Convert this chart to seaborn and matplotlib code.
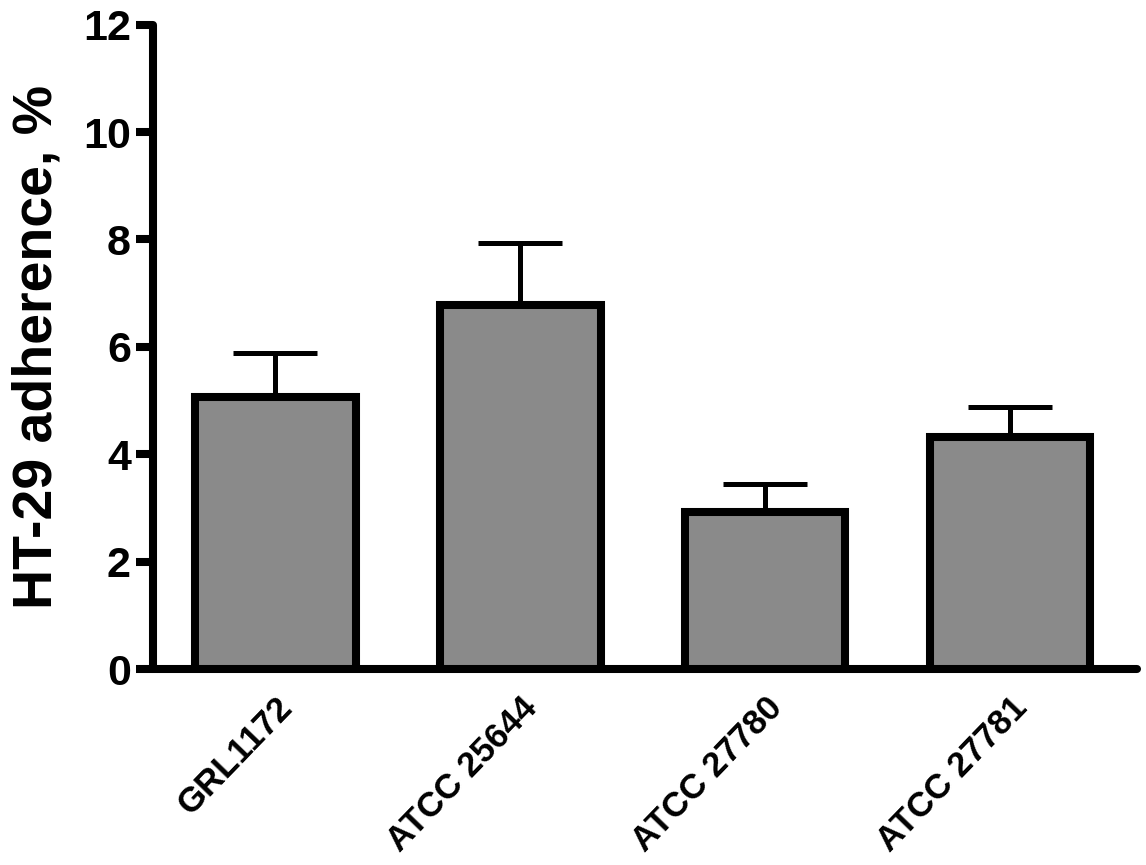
import numpy as np
import pandas as pd
import seaborn as sns
import matplotlib.pyplot as plt

# datos
cepas = ['GRL1172', 'ATCC 25644', 'ATCC 27780', 'ATCC 27781']
adherencia = [5.07, 6.78, 2.93, 4.32]
error_sup = [0.82, 1.15, 0.52, 0.56]

df = pd.DataFrame({'Cepa': cepas, 'Adherencia': adherencia, 'Error': error_sup})

sns.set_style('ticks')
plt.rcParams['font.family'] = ['Liberation Sans', 'DejaVu Sans']
plt.rcParams['font.weight'] = 'bold'
plt.rcParams['text.color'] = 'black'
plt.rcParams['xtick.color'] = 'black'
plt.rcParams['ytick.color'] = 'black'
plt.rcParams['axes.labelcolor'] = 'black'

fig = plt.figure(figsize=(11.46, 8.65), dpi=100)
ax = fig.add_axes([0.1335, 0.2265, 0.859, 0.745])

lw = 5.8

sns.barplot(data=df, x='Cepa', y='Adherencia', color='#8a8a8a', saturation=1,
            width=0.655, edgecolor='black', linewidth=lw, errorbar=None, ax=ax, zorder=3)

# barras de error solo hacia arriba
ax.errorbar(x=np.arange(len(cepas)), y=df['Adherencia'],
            yerr=[np.zeros(len(cepas)), df['Error']],
            fmt='none', ecolor='black', elinewidth=3.6, capsize=30, capthick=3.6, zorder=2)

ax.set_xlim(-0.5, 3.52)
ax.set_ylim(0, 12)
ax.set_yticks([0, 2, 4, 6, 8, 10, 12])

sns.despine(ax=ax)
for s in ['left', 'bottom']:
    ax.spines[s].set_linewidth(lw)
    ax.spines[s].set_capstyle('round')
    ax.spines[s].set_color('black')

ax.tick_params(axis='y', length=12, width=lw, labelsize=31, pad=4)
ax.tick_params(axis='x', length=0, labelsize=25, pad=16)
for lab in ax.get_yticklabels():
    lab.set_fontweight('bold')
for lab in ax.get_xticklabels():
    lab.set_fontweight('bold')
    lab.set_rotation(46)
    lab.set_ha('right')
    lab.set_rotation_mode('anchor')

ax.set_xlabel('')
ax.set_ylabel('HT-29 adherence, %', fontsize=40, fontweight='bold', labelpad=14)

plt.savefig('out.png', dpi=100)
